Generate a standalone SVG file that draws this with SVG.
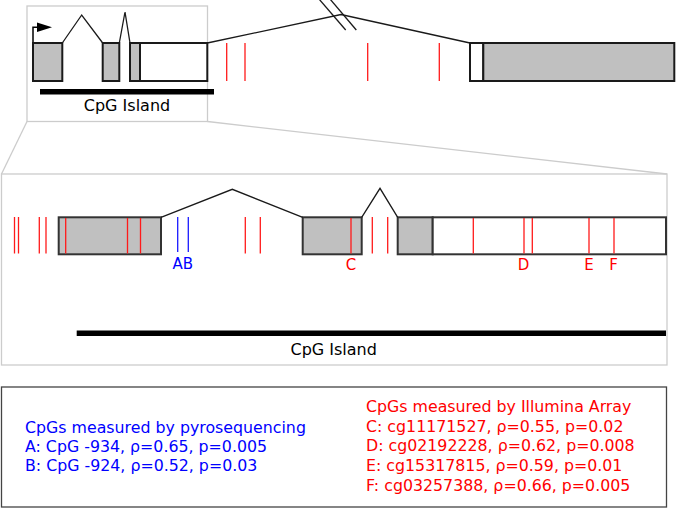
<svg xmlns="http://www.w3.org/2000/svg" width="676" height="509" viewBox="0 0 676 509">
<style>
  .frame { fill: none; stroke: #cccccc; stroke-width: 1.3; }
  .exon { stroke: #1a1a1a; stroke-width: 2; }
  .exon2 { stroke: #333333; stroke-width: 2; }
  .g { fill: #c0c0c0; }
  .w { fill: #ffffff; }
  .intron { fill: none; stroke: #1a1a1a; stroke-width: 1.3; }
  .cpg { stroke: #ff1a1a; stroke-width: 1.3; }
  .cpgb { stroke: #1a1aff; stroke-width: 1.3; }
  .island { fill: #000000; }
  .t { font-family: "DejaVu Sans", Verdana, sans-serif; }
  .lbl { font-size: 16px; fill: #000; text-anchor: middle; }
  .red { fill: #ff0000; }
  .blue { fill: #0000ff; }
</style>
<rect width="676" height="509" fill="#ffffff"/>

<!-- zoom frames -->
<g id="zoom-frames">
  <rect class="frame" x="27" y="6" width="180.5" height="115.5"/>
  <rect class="frame" x="1.5" y="174" width="665.5" height="191"/>
  <line class="frame" x1="27" y1="121.5" x2="1.5" y2="174"/>
  <line class="frame" x1="207.5" y1="121.5" x2="667" y2="174"/>
</g>

<!-- top gene model -->
<g id="top-tss">
  <polyline points="33,43 33,27.3 40,27.3" fill="none" stroke="#000" stroke-width="1.5"/>
  <polygon points="37,22.5 52,27.3 37,32" fill="#000"/>
</g>
<g id="top-exon1"><rect class="exon g" x="33" y="43" width="29.3" height="38"/></g>
<g id="top-exon2"><rect class="exon g" x="102.7" y="43" width="16.6" height="38"/></g>
<g id="top-exon3">
  <rect class="exon g" x="130" y="43" width="10" height="38"/>
  <rect class="exon w" x="140" y="43" width="67.3" height="38"/>
</g>
<g id="top-exon4">
  <rect class="exon w" x="470" y="43" width="13.3" height="38"/>
  <rect class="exon g" x="483.3" y="43" width="191" height="38"/>
</g>
<g id="top-cpgs">
  <line class="cpg" x1="226.7" y1="43" x2="226.7" y2="81"/>
  <line class="cpg" x1="245" y1="43" x2="245" y2="81"/>
  <line class="cpg" x1="367.7" y1="43" x2="367.7" y2="81"/>
  <line class="cpg" x1="439.3" y1="43" x2="439.3" y2="81"/>
</g>
<g id="top-island">
  <rect class="island" x="40" y="89" width="174" height="5.5"/>
  <text class="t lbl" x="127" y="111">CpG Island</text>
</g>

<!-- middle gene model -->
<g id="mid-exon1"><rect class="exon2 g" x="58.7" y="217.3" width="102.3" height="37"/></g>
<g id="mid-exon2"><rect class="exon2 g" x="302.7" y="217.3" width="59" height="37"/></g>
<g id="mid-exon3">
  <rect class="exon2 g" x="397.7" y="217.3" width="35" height="37"/>
  <rect class="exon2 w" x="432.7" y="217.3" width="233.3" height="37"/>
</g>
<g id="mid-cpgs">
  <line class="cpg" x1="14.5" y1="217" x2="14.5" y2="253.5"/>
  <line class="cpg" x1="18.5" y1="217" x2="18.5" y2="253.5" stroke-width="1.8"/>
  <line class="cpg" x1="39.3" y1="217" x2="39.3" y2="253.5"/>
  <line class="cpg" x1="46" y1="217" x2="46" y2="253.5"/>
  <line class="cpg" x1="65.7" y1="218" x2="65.7" y2="253.5"/>
  <line class="cpg" x1="127.5" y1="218" x2="127.5" y2="253.5"/>
  <line class="cpg" x1="140.5" y1="218" x2="140.5" y2="253.5"/>
  <line class="cpg" x1="245.3" y1="217" x2="245.3" y2="253.5"/>
  <line class="cpg" x1="260.3" y1="217" x2="260.3" y2="253.5"/>
  <line class="cpg" x1="351" y1="218" x2="351" y2="253.5"/>
  <line class="cpg" x1="372.3" y1="217" x2="372.3" y2="253.5"/>
  <line class="cpg" x1="387.7" y1="217" x2="387.7" y2="253.5"/>
  <line class="cpg" x1="473.3" y1="218" x2="473.3" y2="253.5"/>
  <line class="cpg" x1="524" y1="218" x2="524" y2="253.5"/>
  <line class="cpg" x1="532.3" y1="218" x2="532.3" y2="253.5"/>
  <line class="cpg" x1="589" y1="218" x2="589" y2="253.5"/>
  <line class="cpg" x1="614" y1="218" x2="614" y2="253.5"/>
  <line class="cpgb" x1="177.7" y1="217" x2="177.7" y2="252"/>
  <line class="cpgb" x1="188.3" y1="217" x2="188.3" y2="252"/>
</g>
<g id="mid-labels" class="t" font-size="15" text-anchor="middle">
  <text class="blue" x="182.7" y="269">AB</text>
  <text class="red" x="351" y="270">C</text>
  <text class="red" x="523.5" y="270">D</text>
  <text class="red" x="589" y="270">E</text>
  <text class="red" x="613.5" y="270">F</text>
</g>
<g id="mid-island">
  <rect class="island" x="76.7" y="330.5" width="589.3" height="5.5"/>
  <text class="t lbl" x="333.7" y="355">CpG Island</text>
</g>

<!-- connectors (introns) -->
<g id="connectors">
  <polyline class="intron" points="62.3,43 81.7,15 102.7,43"/>
  <polyline class="intron" points="119.3,43 125,12 130,43"/>
  <polyline class="intron" points="207.3,43 341,14.5 470,43"/>
  <line class="intron" x1="319" y1="-1" x2="345.7" y2="30"/>
  <line class="intron" x1="330" y1="-1" x2="356.3" y2="30"/>
  <polyline class="intron" points="161,217.3 232.3,189.3 302.7,217.3"/>
  <polyline class="intron" points="361.7,217.3 380,188.3 397.7,217.3"/>
</g>

<!-- legend -->
<g id="legend">
  <rect x="1.5" y="387" width="665" height="120" fill="none" stroke="#444444" stroke-width="1.3"/>
  <g class="t" font-size="15.8">
    <text class="blue" x="25" y="432.5">CpGs measured by pyrosequencing</text>
    <text class="blue" x="25" y="452">A: CpG -934, ρ=0.65, p=0.005</text>
    <text class="blue" x="25" y="471.3">B: CpG -924, ρ=0.52, p=0.03</text>
    <text class="red" x="366" y="412.2">CpGs measured by Illumina Array</text>
    <text class="red" x="366" y="431.8">C: cg11171527, ρ=0.55, p=0.02</text>
    <text class="red" x="366" y="451.4">D: cg02192228, ρ=0.62, p=0.008</text>
    <text class="red" x="366" y="471">E: cg15317815, ρ=0.59, p=0.01</text>
    <text class="red" x="366" y="490.6">F: cg03257388, ρ=0.66, p=0.005</text>
  </g>
</g>
</svg>
